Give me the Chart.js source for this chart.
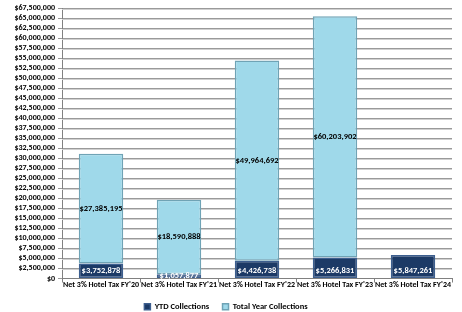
<!DOCTYPE html>
<html>
<head>
<meta charset="utf-8">
<script src="https://cdn.jsdelivr.net/npm/chart.js@4"></script>
<style>
    html, body { margin: 0; padding: 0; background: #fff; }
    #wrap { width: 462px; height: 312px; }
</style>
</head>
<body>
<div id="wrap"><canvas id="taxChart" width="462" height="312"></canvas></div>
<script>
const categories = [
    "Net 3% Hotel Tax FY'20",
    "Net 3% Hotel Tax FY'21",
    "Net 3% Hotel Tax FY'22",
    "Net 3% Hotel Tax FY'23",
    "Net 3% Hotel Tax FY'24"
];
const ytdCollections = [3752878, 1057877, 4426738, 5266831, 5847261];
const totalYearCollections = [27385195, 18590888, 49964692, 60203902, 0];

const fontFamily = "Carlito, Lato, 'Liberation Sans', Arial, sans-serif";

const money = v => "$" + Number(v).toLocaleString("en-US");

// shadow under each grid line, like the excel look
const gridShadow = {
    id: "gridShadow",
    beforeDatasetsDraw(chart) {
        const { ctx, chartArea, scales } = chart;
        ctx.save();
        ctx.strokeStyle = "#d0d0d0";
        ctx.lineWidth = 1;
        scales.y.ticks.forEach((t, i) => {
            if (i === 0) return;
            const y = Math.round(scales.y.getPixelForTick(i)) + 1.5;
            ctx.beginPath();
            ctx.moveTo(chartArea.left, y);
            ctx.lineTo(chartArea.right, y);
            ctx.stroke();
        });
        ctx.restore();
    }
};

const barLabels = {
    id: "barLabels",
    afterDatasetsDraw(chart) {
        const { ctx } = chart;
        ctx.save();
        ctx.font = "bold 8.5px " + fontFamily;
        ctx.textAlign = "center";
        ctx.textBaseline = "middle";
        chart.data.datasets.forEach((ds, di) => {
            const meta = chart.getDatasetMeta(di);
            meta.data.forEach((bar, i) => {
                const v = ds.data[i];
                if (!v) return;
                let y = (bar.y + bar.base) / 2;
                if (di === 0) y = Math.max(y, bar.base - 7);
                ctx.fillStyle = di === 0 ? "#ffffff" : "#000000";
                ctx.fillText(money(v), bar.x, y);
            });
        });
        ctx.restore();
    }
};

new Chart(document.getElementById("taxChart"), {
    type: "bar",
    data: {
        labels: categories,
        datasets: [
            {
                label: "YTD Collections",
                data: ytdCollections,
                backgroundColor: "#1c3a66",
                borderColor: "#3d5f8f",
                borderWidth: 1.5,
                borderSkipped: false
            },
            {
                label: "Total Year Collections",
                data: totalYearCollections,
                backgroundColor: "#9fd9ea",
                borderColor: "#6fa3b5",
                borderWidth: 1.5,
                borderSkipped: false
            }
        ]
    },
    options: {
        responsive: false,
        animation: false,
        datasets: { bar: { categoryPercentage: 1, barPercentage: 0.57 } },
        layout: { padding: { top: 8, right: 10, left: 0, bottom: -9 } },
        plugins: {
            legend: {
                position: "bottom",
                labels: {
                    color: "#000",
                    boxWidth: 6,
                    boxHeight: 6,
                    padding: 3,
                    font: { family: fontFamily, size: 8.5, weight: "bold" },
                    generateLabels: chart => {
                        const items = Chart.defaults.plugins.legend.labels.generateLabels(chart);
                        items.forEach((it, i) => {
                            if (i < items.length - 1) it.text += "\u2003 ";
                        });
                        return items;
                    }
                }
            },
            tooltip: { enabled: false }
        },
        scales: {
            x: {
                stacked: true,
                afterFit: s => { s.height = 21; },
                grid: { drawOnChartArea: false, color: "#808080", tickLength: 4 },
                border: { color: "#808080" },
                ticks: {
                    color: "#000",
                    maxRotation: 0,
                    autoSkip: false,
                    padding: -2,
                    font: { family: fontFamily, size: 8, weight: "bold" }
                }
            },
            y: {
                stacked: true,
                min: 0,
                max: 67500000,
                afterFit: s => { s.width = 62; },
                grid: { color: "#9a9a9a", tickLength: 4 },
                border: { color: "#808080" },
                ticks: {
                    stepSize: 2500000,
                    autoSkip: false,
                    color: "#000",
                    padding: 3,
                    font: { family: fontFamily, size: 8, weight: "bold" },
                    callback: v => money(v)
                }
            }
        }
    },
    plugins: [gridShadow, barLabels]
});
</script>
</body>
</html>
